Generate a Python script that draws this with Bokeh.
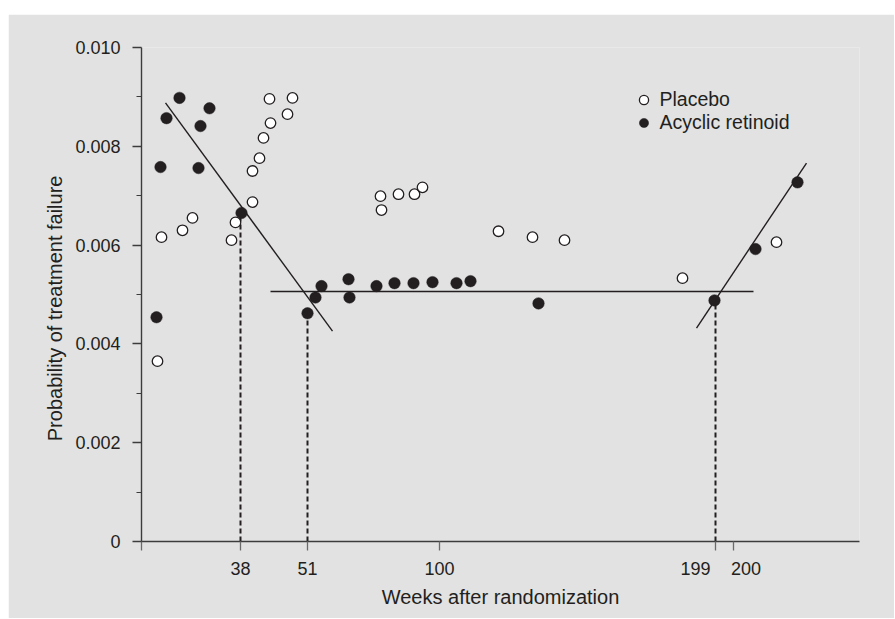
from bokeh.plotting import figure
from bokeh.models import Range1d, FixedTicker, Legend, LegendItem
from bokeh.embed import file_html
from bokeh.resources import INLINE

# ---- data (x = position along the drawn week axis, y = probability) ----
tick_pos = [0, 99, 166, 298, 574, 592]
tick_labels = ["", "38", "51", "100", "199", "200"]

placebo_x = [16, 20, 41, 51, 90, 94, 111, 111, 118, 122, 129, 128, 146, 151,
             239, 240, 257, 273, 281, 357, 391, 423, 541, 635]
placebo_y = [0.00365, 0.00616, 0.00630, 0.00655, 0.00610, 0.00646, 0.00687,
             0.00750, 0.00776, 0.00817, 0.00847, 0.00896, 0.00865, 0.00898,
             0.00699, 0.00671, 0.00703, 0.00703, 0.00717, 0.00628, 0.00616,
             0.00610, 0.00533, 0.00606]

retinoid_x = [15, 19, 25, 38, 59, 57, 68, 100, 166, 174, 180, 207, 208, 235,
              253, 272, 291, 315, 329, 397, 573, 614, 656]
retinoid_y = [0.00454, 0.00758, 0.00857, 0.00898, 0.00841, 0.00756, 0.00877,
              0.00665, 0.00462, 0.00494, 0.00517, 0.00531, 0.00494, 0.00517,
              0.00523, 0.00523, 0.00525, 0.00523, 0.00527, 0.00482, 0.00488,
              0.00592, 0.00727]

# fitted segments
fit_x0 = [24, 129, 555]
fit_y0 = [0.00888, 0.00506, 0.00432]
fit_x1 = [191, 612, 665]
fit_y1 = [0.00426, 0.00506, 0.00766]

# change points (dashed drop lines)
cp_x = [99, 166, 574]
cp_y = [0.00665, 0.00462, 0.00488]

y_ticks = [0, 0.002, 0.004, 0.006, 0.008, 0.01]
y_tick_labels = ["0", "0.002", "0.004", "0.006", "0.008", "0.010"]
y_minor = [0.001, 0.003, 0.005, 0.007, 0.009]

BG = "#e2e2e2"
INK = "#231f20"
AX = "#3c3c3c"
FONT = "Liberation Sans"

p = figure(width=886, height=604, output_backend="svg", toolbar_location=None,
           x_range=Range1d(0, 718), y_range=Range1d(0, 0.010),
           min_border_left=133, min_border_right=35, min_border_top=33,
           min_border_bottom=77)
p.margin = (14, 0, 0, 8)
p.background_fill_color = BG
p.border_fill_color = BG
p.outline_line_color = None
p.xgrid.visible = False
p.ygrid.visible = False

# fitted lines
p.segment(x0=fit_x0, y0=fit_y0, x1=fit_x1, y1=fit_y1, line_color=INK,
          line_width=1.4)
# dashed drop lines
p.segment(x0=cp_x, y0=[0] * len(cp_x), x1=cp_x, y1=cp_y, line_color=INK,
          line_width=2, line_dash="5 3")

r_pl = p.scatter(placebo_x, placebo_y, marker="circle", size=10.5,
                 fill_color="white", line_color=INK, line_width=1.3)
r_re = p.scatter(retinoid_x, retinoid_y, marker="circle", size=11.5,
                 fill_color=INK, line_color=INK, line_width=0.5)

legend = Legend(items=[LegendItem(label="Placebo", renderers=[r_pl]),
                       LegendItem(label="Acyclic retinoid", renderers=[r_re])],
                location=(488.5, 407.5), padding=0, margin=0, spacing=0,
                glyph_width=27, glyph_height=23, label_height=20,
                label_standoff=3, border_line_color=None,
                background_fill_alpha=0)
legend.label_text_font = FONT
legend.label_text_font_size = "19.5px"
legend.label_text_color = INK
p.add_layout(legend)

# axes
xa = p.xaxis[0]
xa.ticker = FixedTicker(ticks=tick_pos, minor_ticks=[])
over = {}
for t, lab in zip(tick_pos, tick_labels):
    over[t] = lab
over[574] = "199" + "\u00a0" * 8
over[592] = "\u00a0" * 5 + "200"
xa.major_label_overrides = over
xa.axis_label = "Weeks after randomization"

ya = p.yaxis[0]
ya.ticker = FixedTicker(ticks=y_ticks, minor_ticks=y_minor)
ya.major_label_overrides = {t: lab for t, lab in zip(y_ticks, y_tick_labels)}
ya.axis_label = "Probability of treatment failure" + "\u00a0" * 5

for ax in (xa, ya):
    ax.axis_line_color = AX
    ax.axis_line_width = 1.4
    ax.major_tick_line_color = AX
    ax.major_tick_line_width = 1.3
    ax.major_tick_in = 0
    ax.major_tick_out = 9
    ax.minor_tick_line_color = AX
    ax.minor_tick_line_width = 1.2
    ax.minor_tick_in = 0
    ax.minor_tick_out = 5
    ax.major_label_text_font = FONT
    ax.major_label_text_font_size = "18px"
    ax.major_label_text_color = INK
    ax.axis_label_text_font = FONT
    ax.axis_label_text_font_size = "20px"
    ax.axis_label_text_font_style = "normal"
    ax.axis_label_text_color = INK

xa.major_tick_line_color = "#6a6a6a"
xa.major_label_standoff = 8
xa.axis_label_standoff = 4
ya.major_label_standoff = 12
ya.axis_label_standoff = 6

open("out.html", "w").write(file_html(p, INLINE))
